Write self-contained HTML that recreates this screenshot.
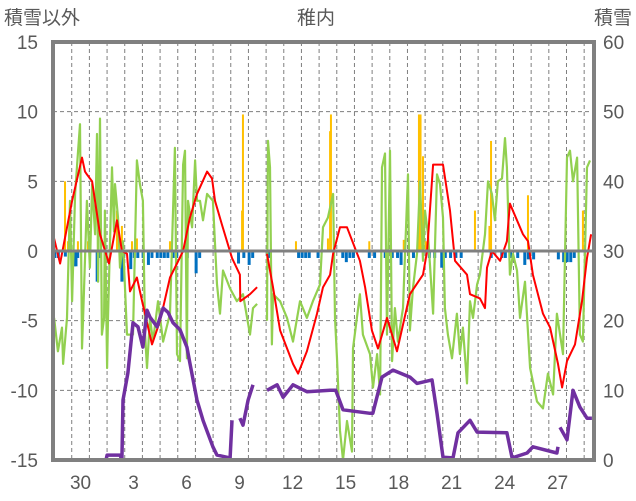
<!DOCTYPE html>
<html><head><meta charset="utf-8">
<style>
html,body{margin:0;padding:0;background:#fff;}
svg{display:block;font-family:"Liberation Sans","Noto Sans CJK JP",sans-serif;}
</style></head>
<body>
<svg id="chart" width="636" height="501" viewBox="0 0 636 501" xmlns="http://www.w3.org/2000/svg">
<text x="4" y="24" font-size="19" fill="#595959">積雪以外</text>
<text x="316" y="24" font-size="19" fill="#595959" text-anchor="middle">稚内</text>
<text x="632" y="24" font-size="19" fill="#595959" text-anchor="end">積雪</text>
<g id="grid"></g>
<g id="bars"></g>
<g id="lines"></g>
<g id="axes"></g>
</svg>
<script>
const leftTicks=[15,10,5,0,-5,-10,-15];
const rightTicks=[60,50,40,30,20,10,0];
const dayLabels=["30","3","6","9","12","15","18","21","24","27"];
const redT=[0.06,0.40,1.08,1.64,1.81,1.92,2.21,2.66,3.17,3.62,3.90,4.19,4.36,4.75,5.04,5.60,6.06,6.62,7.02,7.36,7.75,8.15,8.72,9.00,9.17,9.56,10.13,10.58,10.60,11.15,11.55,null,12.11,12.45,12.85,13.58,13.87,14.37,14.94,15.28,15.68,15.85,16.24,16.64,17.37,17.66,18.05,18.39,18.90,19.47,20.20,20.94,21.17,21.51,22.07,22.47,22.75,23.43,23.60,24.16,24.45,24.56,24.84,25.30,25.69,25.86,26.26,26.60,26.88,27.16,27.73,28.13,28.58,28.81,29.09,29.54,29.94,30.22,30.45];
const redV=[0.9,-0.9,3.6,6.7,5.7,5.5,5.0,1.2,-0.9,2.2,0,-0.2,-2.9,-1.9,-3.6,-6.7,-5.0,-1.9,-0.9,0,2.4,4.1,5.7,5.2,3.6,1.9,-0.5,-1.7,-3.6,-3.1,-2.6,null,-0.2,-2.6,-5.7,-8.1,-8.8,-7.2,-4.5,-2.6,-1.7,-0.2,1.7,1.7,-0.7,-2.6,-5.7,-7.0,-4.8,-7.2,-3.1,-1.7,0,6.2,6.2,2.9,-0.7,-1.7,-3.1,-3.4,-4.1,-1.2,0,-0.7,0.7,3.4,2.2,1.2,0.7,-1.7,-4.5,-5.5,-8.1,-9.8,-7.9,-6.7,-3.6,-0.5,1.2];
const greenT=[0.06,0.28,0.51,0.57,0.79,0.96,1.08,1.25,1.41,1.53,1.64,1.70,1.92,2.09,2.21,2.38,2.49,2.55,2.66,2.77,2.89,2.94,3.06,3.11,3.34,3.45,3.51,3.68,3.79,3.96,4.19,4.53,4.75,4.92,5.09,5.21,5.32,5.49,5.66,5.94,6.23,6.62,6.90,7.02,7.19,7.36,7.47,7.58,7.64,7.87,8.04,8.15,8.32,8.49,8.72,9.05,9.28,9.45,9.62,10.02,10.41,10.75,11.15,11.32,11.55,null,12.11,12.17,12.28,12.39,12.45,12.85,13.24,13.58,13.98,14.37,14.71,15.11,15.28,15.56,15.85,15.96,16.07,16.24,16.41,16.64,16.92,16.98,17.37,17.54,17.94,18.11,18.34,18.51,18.62,18.79,18.90,19.07,19.19,19.35,19.52,19.81,20.09,20.20,20.37,20.60,20.77,20.94,21.05,21.22,21.51,21.73,21.90,22.07,22.18,22.35,22.58,22.86,23.03,23.20,23.43,23.60,23.77,24.00,24.16,24.45,24.62,24.84,25.01,25.18,25.41,25.58,25.69,25.86,26.03,26.26,26.43,26.71,27.00,27.39,27.73,28.01,28.30,28.52,28.86,29.09,29.26,29.43,29.66,29.82,29.99,30.22,30.39];
const greenV=[-4.8,-7.2,-5.5,-8.1,-4.8,3.6,-3.6,4.1,7.0,9.1,-7.0,-5.0,3.6,-1.2,4.8,1.2,8.4,-2.2,9.5,-6.0,-4.8,2.9,-8.4,-4.8,6.0,1.4,4.8,2.4,-1.2,0.7,-6.0,-6.0,6.5,4.8,3.6,-6.0,-8.4,-4.8,-6.5,-3.6,-6.5,-4.5,7.4,-7.4,-7.9,6.2,7.2,-7.7,3.6,1.7,6.5,3.6,3.6,2.2,4.1,3.6,-2.4,-4.5,-1.4,-2.7,-3.6,-3.1,-6.0,-4.1,-3.8,null,-5.0,7.9,6.0,-6.7,-3.1,-3.6,-4.8,-6.5,-3.6,-4.8,-3.6,-2.4,1.7,2.4,4.1,-4.8,-7.7,-12.9,-15,-12.2,-14.4,-7.0,-3.1,-6.0,-7.4,-9.8,-7.4,-10.3,6.0,7.0,-6.0,7.2,-7.9,-4.1,-6.5,-4.1,5.5,-5.7,-2.7,-0.2,5.0,-0.7,2.9,1.2,-4.5,5.5,4.8,2.4,-4.1,-6.0,-7.7,-4.5,-7.4,-5.5,-9.5,-3.6,-4.8,-2.4,-1.7,1.2,5.0,4.1,2.2,5.0,5.2,8.1,6.0,-1.7,-0.2,-1.4,-4.8,-2.2,-8.4,-10.8,-11.3,-8.8,-10.3,-4.5,-7.4,6.7,7.2,5.0,6.7,-6.0,-6.5,6.0,6.5];
const snowT=[0.06,3.0,3.06,3.8,3.9,3.96,4.24,4.53,4.81,5.09,5.32,5.49,5.89,6.23,6.51,6.79,7.19,7.58,7.75,8.15,8.49,9.05,9.28,10.02,10.13,null,10.58,10.75,11.04,11.32,null,12.11,12.68,13.02,13.58,14.37,15.68,16.00,16.41,17.94,18.10,18.62,19.24,20.20,20.60,21.45,21.73,22.07,22.64,22.92,23.60,24.00,25.69,25.98,26.83,27.16,28.52,28.58,null,28.69,29.09,29.43,29.82,30.22,30.50];
const snowV=[0,0,0.7,0.7,0,8.6,12.5,19.7,19.1,16.2,21.5,20.5,19.1,21.8,21.2,19.7,18.7,16.2,13.9,8.6,5.7,1.9,0.7,0.3,5.7,null,6.0,5.0,8.6,10.8,null,10.0,10.8,9.0,10.8,9.8,10.0,10.0,7.2,6.7,6.7,11.9,12.9,11.9,11.0,11.5,6.7,0.4,0.3,3.9,5.7,4.0,3.9,0.3,1.0,1.9,1.0,1.9,null,4.7,2.9,10.0,7.6,6.0,6.0];
const precipT=[0.68,0.85,1.41,1.98,3.62,3.90,4.47,4.75,6.62,7.53,10.70,10.75,13.75,15.56,15.68,15.73,17.90,19.85,20.71,20.80,20.94,21.10,23.88,24.70,24.79,26.88,29.99];
const precipV=[5.0,0.7,0.7,0.7,2.9,1.8,0.7,0.9,0.7,0.7,2.9,9.8,0.7,0.9,8.6,9.8,0.7,0.8,9.8,9.8,6.8,0.7,2.9,1.8,7.9,4.0,2.9];
const negT=[0.1,0.3,0.7,1.2,1.3,1.4,2.5,2.6,3.9,4.0,4.4,4.6,4.8,5.1,5.4,5.6,5.9,6.1,6.3,6.5,6.8,7.0,7.6,8.1,8.3,10.5,10.8,11.1,11.3,12.2,13.9,14.1,14.3,14.5,15.0,16.4,16.6,16.8,17.0,17.9,18.2,18.8,19.2,19.5,19.7,20.4,21.3,21.6,22.0,22.2,22.5,22.8,23.1,24.8,25.4,25.6,25.9,26.3,26.7,26.9,27.2,28.6,28.9,29.1,29.3,29.5];
const negV=[-0.5,-0.5,-0.4,-1.1,-1.1,-0.5,-2.2,-0.5,-2.2,-0.5,-1.3,-0.5,-0.5,-0.5,-1.0,-0.5,-0.5,-0.5,-0.5,-0.5,-0.5,-0.5,-0.5,-1.6,-0.5,-0.9,-0.5,-1.0,-0.5,-0.5,-0.5,-0.5,-0.5,-0.5,-0.5,-0.5,-0.8,-0.5,-0.5,-0.5,-0.5,-0.5,-0.5,-0.5,-1.0,-0.5,-0.5,-0.5,-1.2,-0.5,-0.5,-0.5,-0.5,-0.5,-0.5,-0.5,-0.5,-0.5,-1.0,-0.6,-0.6,-0.6,-0.8,-0.8,-0.8,-0.5];

const NS="http://www.w3.org/2000/svg";
const PX0=53,PX1=594,PY0=42,PY1=460;
const DAYPX=17.67;
const xS=t=>PX0+t*DAYPX;
const yL=v=>PY1-(v+15)/30*(PY1-PY0);
const yR=v=>PY1-v/60*(PY1-PY0);
function mk(tag,attrs,parent){const e=document.createElementNS(NS,tag);for(const k in attrs)e.setAttribute(k,attrs[k]);parent.appendChild(e);return e;}
const grid=document.getElementById('grid'),bars=document.getElementById('bars'),lines=document.getElementById('lines'),axes=document.getElementById('axes');

leftTicks.forEach(v=>{
  if(v!==0&&v!==15&&v!==-15){const l=mk('line',{x1:PX0,x2:PX1,y1:yL(v),y2:yL(v),stroke:'#7f7f7f','stroke-width':1,'stroke-dasharray':'4,3'},grid);
  
  }
  const t=mk('text',{x:38,y:yL(v)+7,'font-size':19,fill:'#595959','text-anchor':'end'},axes);t.textContent=v;
  
  
});
rightTicks.forEach(v=>{
  const t=mk('text',{x:603,y:yR(v)+7,'font-size':19,fill:'#595959'},axes);t.textContent=v;
  
  
});
for(let k=0;k<30;k++){
  const x=xS(1.06+k);
  if(x>=PX1-2)break;
  const l=mk('line',{x1:x,x2:x,y1:PY0,y2:PY1,stroke:'#7f7f7f','stroke-width':1,'stroke-dasharray':'4,3'},grid);
  
  
}
dayLabels.forEach((d,i)=>{
  const t=mk('text',{x:xS(1.56+3*i),y:489,'font-size':19,fill:'#595959','text-anchor':'middle'},axes);t.textContent=d;
  
  
});
precipT.forEach((t,i)=>{
  const y=yL(precipV[i]);
  const r=mk('rect',{x:xS(t)-1,y:y,width:2,height:yL(0)-y,fill:'#ffc000'},bars);
  
  
});
negT.forEach((t,i)=>{
  const y=yL(negV[i]);
  const r=mk('rect',{x:xS(t)-1.5,y:yL(0),width:3,height:y-yL(0),fill:'#0070c0'},bars);
  
  
});
function path(T,V,ys){let d='',pen=false;T.forEach((t,i)=>{if(t===null||V[i]===null){pen=false;return;}d+=(pen?'L':'M')+xS(t).toFixed(1)+','+ys(V[i]).toFixed(1);pen=true;});return d;}
const g=mk('path',{d:path(greenT,greenV,yL),fill:'none',stroke:'#92d050','stroke-width':2.2,'stroke-linejoin':'round'},lines);


const r=mk('path',{d:path(redT,redV,yL),fill:'none',stroke:'#ff0000','stroke-width':2,'stroke-linejoin':'round'},lines);


const p=mk('path',{d:path(snowT,snowV,yR),fill:'none',stroke:'#7030a0','stroke-width':3.5,'stroke-linejoin':'round'},lines);


const z=mk('line',{x1:PX0,x2:PX1,y1:yL(0),y2:yL(0),stroke:'#808080','stroke-width':3},axes);


const f=mk('rect',{x:PX0,y:PY0,width:PX1-PX0,height:PY1-PY0,fill:'none',stroke:'#808080','stroke-width':4},axes);


</script>
</body></html>
